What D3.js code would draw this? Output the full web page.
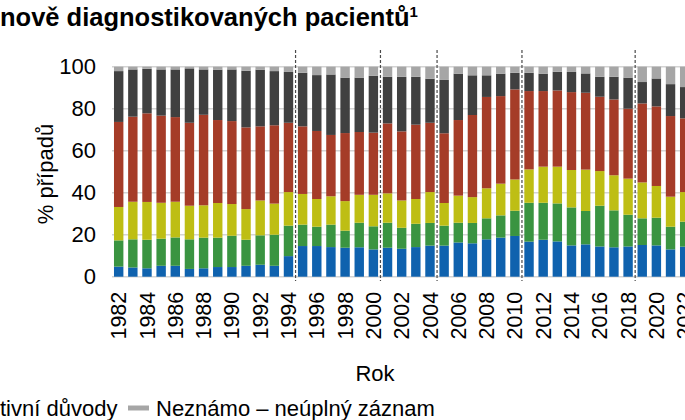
<!DOCTYPE html>
<html>
<head>
<meta charset="utf-8">
<script src="https://cdn.jsdelivr.net/npm/d3@7"></script>
<style>
  body { margin: 0; background: #fff; }
  #myPlot { width: 685px; height: 420px; overflow: hidden; }
  text { font-family: "Liberation Sans", Arial, sans-serif; fill: #000; }
</style>
</head>
<body>
<div id="myPlot"></div>
<script>
// Data (shares in %, each series = one segment of the stacked bar)
const years = d3.range(1982, 2023);

const blue = [4.8, 4.4, 4.0, 5.2, 5.2, 3.7, 4.0, 4.6, 4.6, 5.2, 5.7, 5.2, 9.8, 14.6, 14.6, 14.1, 13.8, 14.0, 13.0, 13.8, 13.3,
  14.1, 14.8, 14.8, 16.3, 15.9, 17.8, 18.6, 19.4, 16.7, 17.6, 16.8, 14.9, 15.4, 14.4, 14.0, 14.4, 15.1, 14.9, 13.0, 14.3];
const green = [12.5, 13.4, 13.6, 12.9, 13.5, 14.1, 14.6, 14.0, 14.9, 12.4, 14.0, 14.8, 14.5, 10.2, 9.2, 10.7, 8.1, 11.7, 11.0, 11.9, 10.0,
  11.1, 10.8, 9.5, 9.4, 9.7, 10.0, 10.6, 12.0, 18.5, 17.6, 18.1, 18.1, 15.9, 19.4, 17.6, 15.1, 12.7, 13.2, 10.8, 11.9];
const yellow = [15.9, 17.9, 18.0, 17.1, 17.0, 16.0, 15.4, 16.5, 15.1, 14.6, 16.6, 14.8, 16.0, 14.6, 13.2, 13.5, 14.1, 13.3, 15.0, 14.0, 13.0,
  11.8, 14.7, 10.8, 12.9, 12.3, 14.3, 15.1, 14.9, 15.9, 17.2, 17.5, 17.8, 19.7, 16.5, 16.7, 17.2, 17.1, 15.1, 14.3, 14.1];
const red = [40.5, 40.5, 42.2, 41.5, 40.3, 39.5, 43.1, 39.5, 39.5, 38.9, 35.3, 37.3, 33.0, 32.2, 32.4, 29.2, 32.4, 29.9, 29.6, 33.3, 32.9,
  35.4, 33.0, 33.2, 36.0, 39.1, 43.5, 41.7, 42.9, 37.3, 36.0, 36.3, 37.1, 36.6, 35.4, 36.1, 33.3, 37.6, 37.9, 38.4, 35.1];
const dark = [24.2, 22.5, 21.2, 22.0, 22.7, 25.9, 21.6, 24.0, 24.6, 27.0, 27.0, 25.8, 24.2, 25.5, 26.6, 28.8, 26.4, 25.9, 27.1, 22.2, 26.0,
  22.8, 21.0, 25.4, 22.1, 18.9, 10.3, 10.7, 7.9, 8.7, 8.3, 8.9, 9.6, 9.2, 9.5, 10.8, 14.8, 10.2, 13.3, 15.2, 14.9];
const unknown = [2.1, 1.3, 1.0, 1.3, 1.3, 0.8, 1.3, 1.4, 1.3, 1.9, 1.4, 2.1, 2.5, 2.9, 4.0, 3.7, 5.2, 5.2, 4.3, 4.8, 4.8,
  4.8, 5.7, 6.3, 3.3, 4.1, 4.1, 3.3, 2.9, 2.9, 3.3, 2.4, 2.5, 3.2, 4.8, 4.8, 5.2, 7.3, 5.6, 8.3, 9.7];

// Years after which a dashed separator is drawn
const breakAfter = [1994, 2000, 2004, 2010, 2018];
const yTicks = [0, 20, 40, 60, 80, 100];
const xTicks = years.filter(d => d % 2 === 0);

const keys = ["blue", "green", "yellow", "red", "dark", "unknown"];
const colors = {
  blue: "#0f62ae",
  green: "#3a9441",
  yellow: "#bebe14",
  red: "#a53c28",
  dark: "#404040",
  unknown: "#a6a6a6"
};

const table = years.map((yr, i) => ({
  year: yr, blue: blue[i], green: green[i], yellow: yellow[i],
  red: red[i], dark: dark[i], unknown: unknown[i]
}));

// Dimensions
const width = 685;
const height = 420;
const step = 14.15;
const plotLeft = 112;
const plotTop = 66.7;
const plotBottom = 276.7;

const svg = d3.select("#myPlot")
  .append("svg")
  .attr("width", width)
  .attr("height", height);

// Scales
const x = d3.scaleBand()
  .domain(years)
  .range([plotLeft, plotLeft + step * (years.length - 0.335 + 0.28)])
  .paddingInner(0.335)
  .paddingOuter(0.14);

const y = d3.scaleLinear()
  .domain([0, 100])
  .range([plotBottom, plotTop]);

// Gridlines
svg.append("g")
  .selectAll("line")
  .data(yTicks)
  .join("line")
  .attr("x1", x.range()[0])
  .attr("x2", x.range()[1])
  .attr("y1", d => y(d))
  .attr("y2", d => y(d))
  .attr("stroke", "#d4d4d4")
  .attr("stroke-width", 1.6);

// Stacked bars
const stacked = d3.stack().keys(keys)(table);

svg.append("g")
  .selectAll("g")
  .data(stacked)
  .join("g")
  .attr("fill", d => colors[d.key])
  .selectAll("rect")
  .data(d => d)
  .join("rect")
  .attr("x", d => x(d.data.year))
  .attr("y", d => y(d[1]))
  .attr("width", x.bandwidth())
  .attr("height", d => y(d[0]) - y(d[1]));

// Dashed separators
svg.append("g")
  .selectAll("line")
  .data(breakAfter)
  .join("line")
  .attr("x1", d => x(d) + x.bandwidth() + (x.step() - x.bandwidth()) / 2)
  .attr("x2", d => x(d) + x.bandwidth() + (x.step() - x.bandwidth()) / 2)
  .attr("y1", 50)
  .attr("y2", 281)
  .attr("stroke", "#4a4a4a")
  .attr("stroke-width", 1.2)
  .attr("stroke-dasharray", "3,2");

// Y axis
const yAxis = svg.append("g")
  .attr("transform", `translate(${plotLeft}, 0)`)
  .call(d3.axisLeft(y).tickValues(yTicks).tickSize(0).tickPadding(16));
yAxis.select(".domain").remove();
yAxis.selectAll("text")
  .style("font-size", "22px")
  .style("font-family", "Liberation Sans, Arial, sans-serif")
  .attr("fill", "#000");

// X axis (rotated year labels)
const xAxis = svg.append("g")
  .attr("transform", `translate(0, ${plotBottom})`)
  .call(d3.axisBottom(x).tickValues(xTicks).tickSize(0));
xAxis.select(".domain").remove();
xAxis.selectAll("text")
  .style("font-size", "21.5px")
  .style("font-family", "Liberation Sans, Arial, sans-serif")
  .attr("fill", "#000")
  .attr("transform", "rotate(-90)")
  .attr("text-anchor", "end")
  .attr("x", -15)
  .attr("y", 0)
  .attr("dy", "0.35em");

// Axis titles
svg.append("text")
  .attr("transform", "translate(53, 174) rotate(-90)")
  .style("font-size", "22px")
  .style("text-anchor", "middle")
  .text("% případů");

svg.append("text")
  .attr("x", 375)
  .attr("y", 381)
  .style("font-size", "22px")
  .style("text-anchor", "middle")
  .text("Rok");

// Title (cropped at the left)
const title = svg.append("text")
  .attr("x", 0)
  .attr("y", 26)
  .style("font-size", "25.5px")
  .style("font-weight", "bold")
  .text("nově diagnostikovaných pacientů");
title.append("tspan")
  .attr("dy", -9)
  .style("font-size", "15px")
  .text("1");

// Legend (cropped at the left)
const legend = svg.append("g")
  .attr("transform", "translate(0, 408)");

legend.append("text")
  .attr("x", 0)
  .attr("y", 8)
  .style("font-size", "22px")
  .text("tivní důvody");

legend.append("line")
  .attr("x1", 128)
  .attr("x2", 149)
  .attr("y1", 0)
  .attr("y2", 0)
  .attr("stroke", colors.unknown)
  .attr("stroke-width", 5);

legend.append("text")
  .attr("x", 156)
  .attr("y", 8)
  .style("font-size", "22px")
  .text("Neznámo – neúplný záznam");
</script>
</body>
</html>
